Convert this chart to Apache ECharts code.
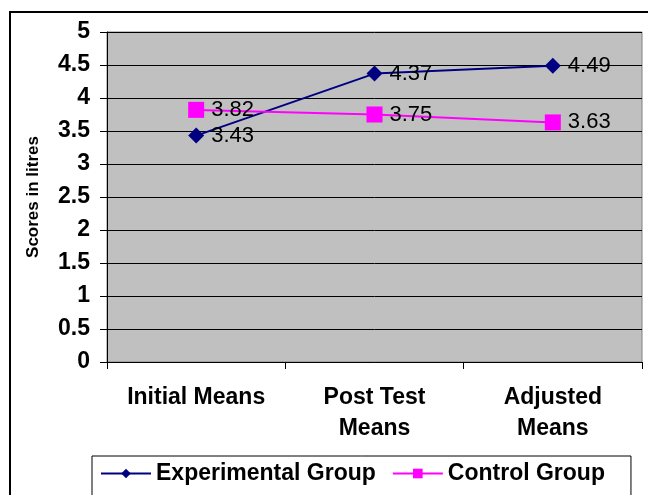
<!DOCTYPE html>
<html>
<head>
<meta charset="utf-8">
<script src="https://cdn.jsdelivr.net/npm/echarts@6/dist/echarts.min.js"></script>
<style>html,body{margin:0;padding:0;background:#fff;}#c{width:648px;height:495px;}</style>
</head>
<body>
<div id="c"></div>
<script>
var categories = ['Initial Means', 'Post Test\nMeans', 'Adjusted\nMeans'];
var experimental = [3.43, 4.37, 4.49];
var control = [3.82, 3.75, 3.63];
var yTicks = { min: 0, max: 5, interval: 0.5 };
var yName = 'Scores in litres';
var seriesNames = ['Experimental Group', 'Control Group'];

var chart = echarts.init(document.getElementById('c'), null, { renderer: 'canvas' });
var font = 'Liberation Sans, Arial, sans-serif';
chart.setOption({
  backgroundColor: '#fff',
  animation: false,
  graphic: [{
    type: 'rect', z: 100,
    shape: { x: 10, y: 12, width: 660, height: 520 },
    style: { fill: 'none', stroke: '#000', lineWidth: 2 }
  }],
  grid: {
    left: 107, top: 32, width: 535, height: 330,
    show: true, backgroundColor: '#C0C0C0', borderColor: '#808080', borderWidth: 1
  },
  legend: {
    left: 92, top: 456,
    padding: [6, 26, 20, 8],
    borderColor: '#000', borderWidth: 1,
    itemWidth: 50, itemHeight: 12, itemGap: 16,
    textStyle: { fontFamily: font, fontWeight: 'bold', fontSize: 23, color: '#000' },
    data: seriesNames
  },
  xAxis: {
    type: 'category', data: categories, boundaryGap: true,
    axisLine: { lineStyle: { color: '#000', width: 1 } },
    axisTick: { show: true, interval: 0, length: 7, lineStyle: { color: '#000' } },
    axisLabel: { interval: 0, hideOverlap: false, margin: 20, fontFamily: font, fontWeight: 'bold', fontSize: 23, color: '#000', lineHeight: 31 },
    splitLine: { show: false }
  },
  yAxis: {
    type: 'value', min: yTicks.min, max: yTicks.max, interval: yTicks.interval,
    name: yName, nameLocation: 'middle', nameGap: 65, nameRotate: 90,
    nameTextStyle: { fontFamily: font, fontWeight: 'bold', fontSize: 17, color: '#000' },
    axisLine: { show: true, lineStyle: { color: '#000', width: 1 } },
    axisTick: { show: true, length: 7, lineStyle: { color: '#000' } },
    axisLabel: { margin: 17, fontFamily: font, fontWeight: 'bold', fontSize: 23, color: '#000' },
    splitLine: { show: true, lineStyle: { color: '#000', width: 1 } }
  },
  series: [{
    name: seriesNames[0], type: 'line', data: experimental,
    symbol: 'diamond', symbolSize: 16,
    itemStyle: { color: '#000080' },
    lineStyle: { color: '#000080', width: 2 },
    label: { show: true, position: 'right', distance: 7, fontFamily: font, fontSize: 22, color: '#000' }
  }, {
    name: seriesNames[1], type: 'line', data: control,
    symbol: 'rect', symbolSize: 16,
    itemStyle: { color: '#FF00FF' },
    lineStyle: { color: '#FF00FF', width: 2 },
    label: { show: true, position: 'right', distance: 7, fontFamily: font, fontSize: 22, color: '#000' }
  }]
});
</script>
</body>
</html>
